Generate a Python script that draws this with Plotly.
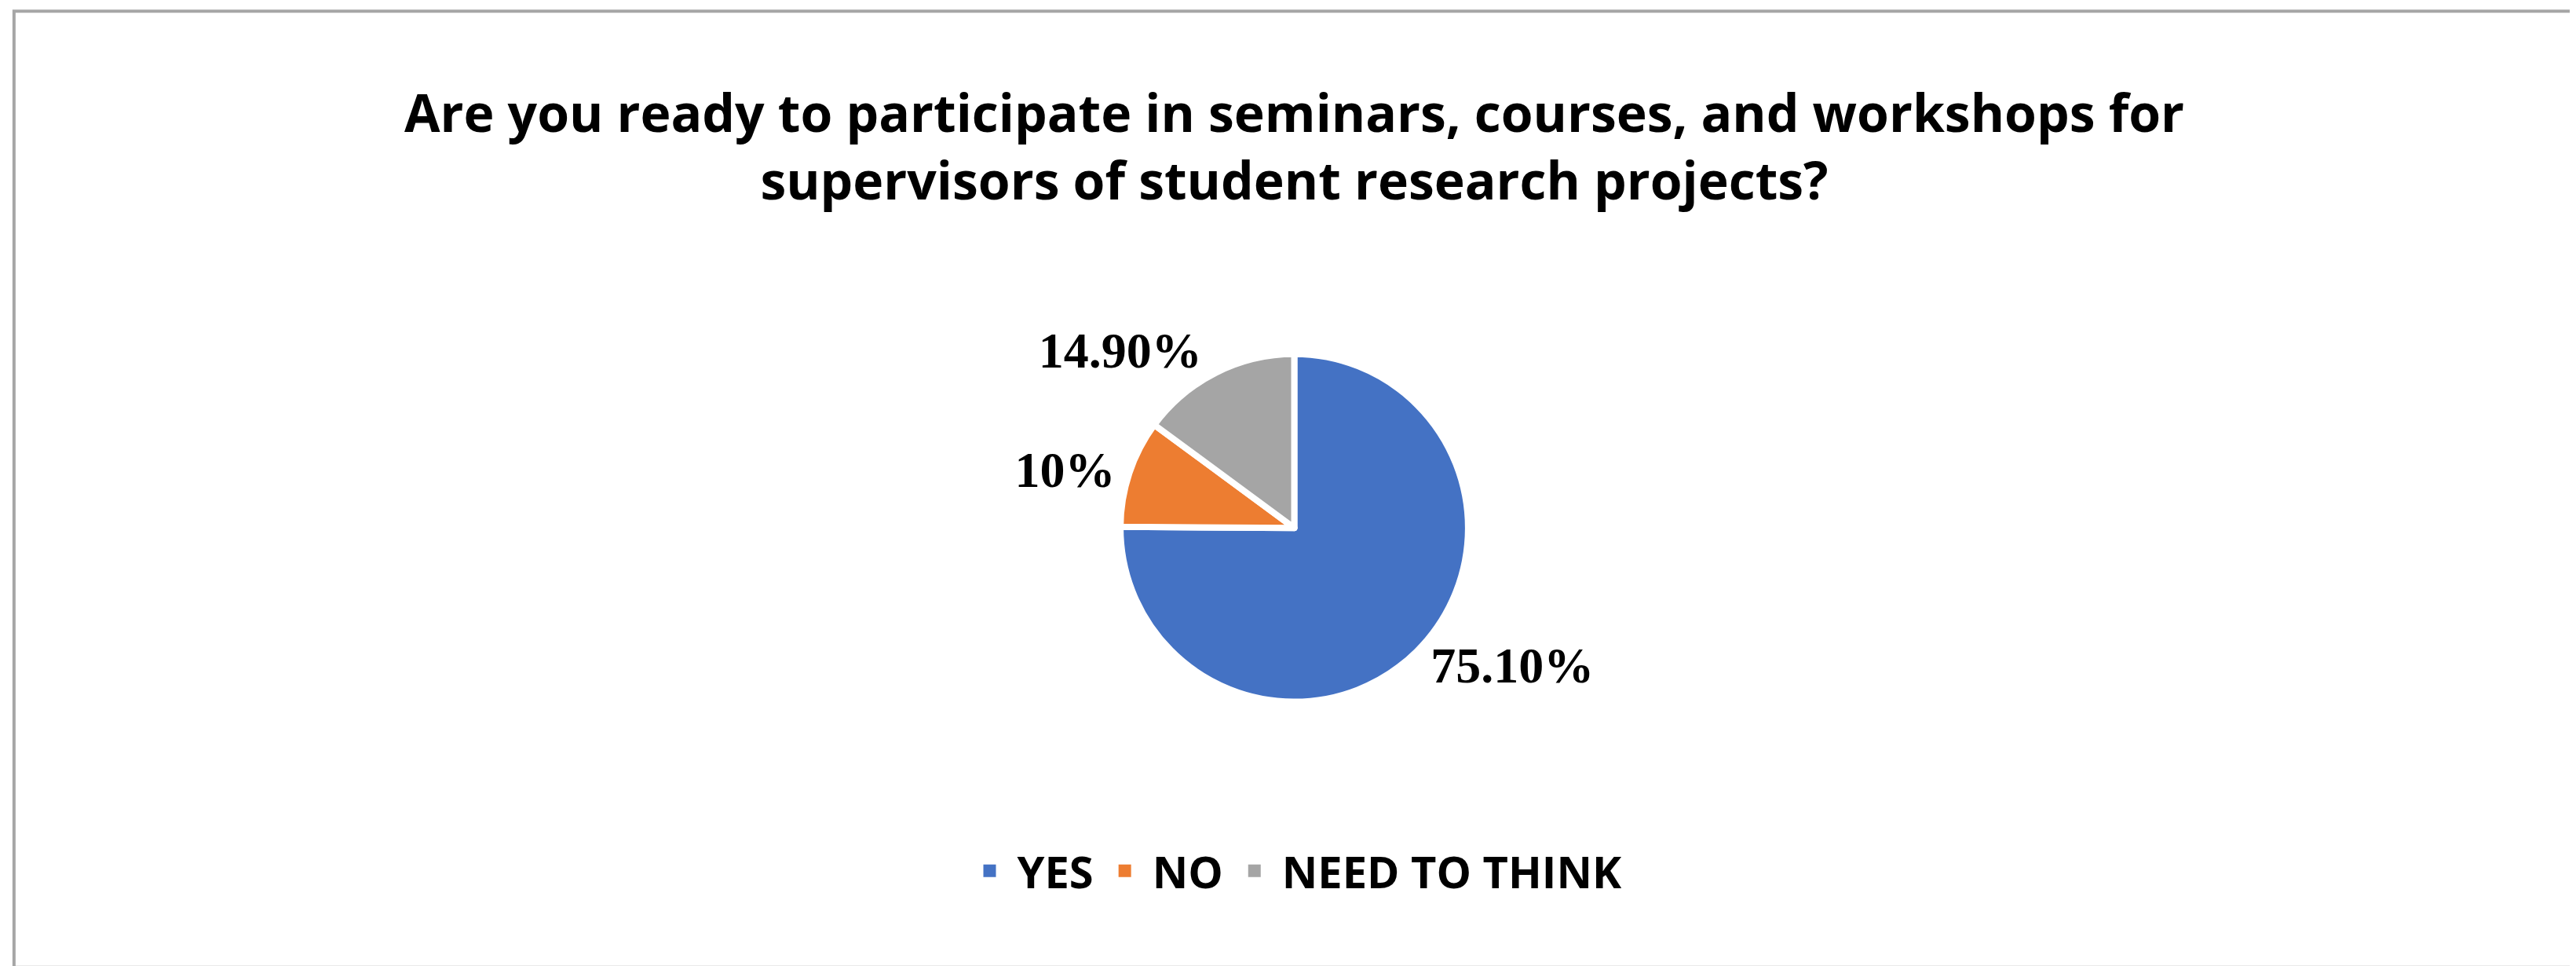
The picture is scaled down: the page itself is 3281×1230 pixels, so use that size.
import plotly.graph_objects as go

labels = ["YES", "NO", "NEED TO THINK"]
values = [75.1, 10, 14.9]
text_labels = ["75.10%", "10%", "14.90%"]
colors = ["#4472C4", "#ED7D31", "#A5A5A5"]

fig = go.Figure(go.Pie(
    labels=labels, values=values, text=text_labels,
    textinfo="text", textposition="outside",
    sort=False, direction="clockwise", rotation=0,
    marker=dict(colors=colors, line=dict(color="white", width=8)),
    textfont=dict(family="Liberation Serif", size=64, color="black", weight="bold"),
    domain=dict(x=[0.3, 0.7], y=[0.28, 0.64]),
    showlegend=False,
))
for lab, col in zip(labels, colors):
    fig.add_trace(go.Scatter(x=[None], y=[None], mode="markers", name=lab,
                             marker=dict(symbol="square", size=24, color=col)))
fig.update_xaxes(visible=False)
fig.update_yaxes(visible=False)
fig.update_layout(
    width=3281, height=1230,
    paper_bgcolor="white", plot_bgcolor="white",
    margin=dict(l=0, r=0, t=0, b=0),
    title=dict(text="<b>Are you ready to participate in seminars, courses, and workshops for<br>supervisors of student research projects?</b>",
               x=0.5, y=0.87, xanchor="center", yanchor="middle",
               font=dict(family="Open Sans", size=66, color="black")),
    legend=dict(orientation="h", x=0.5, xanchor="center", y=0.105, yanchor="middle",
                font=dict(family="Open Sans", size=56, color="black", weight="bold"),
                itemwidth=60, traceorder="normal"),
    shapes=[dict(type="rect", xref="paper", yref="paper", x0=0.003, y0=0.005, x1=0.997, y1=0.995,
                 line=dict(color="#A6A6A6", width=4))],
)
fig.write_html("out.html")
